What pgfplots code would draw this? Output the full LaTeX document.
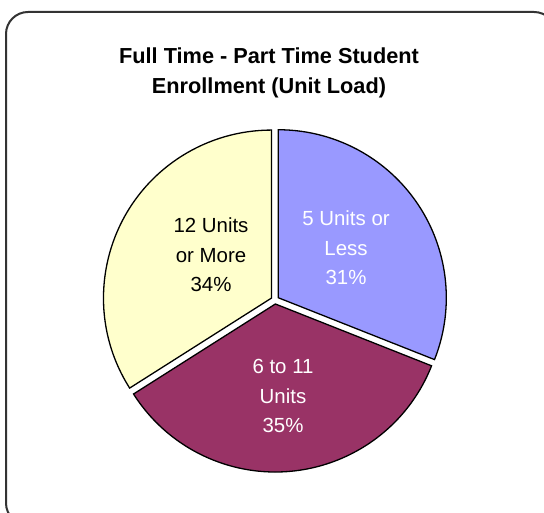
\documentclass[border=0pt]{standalone}
\usepackage{pgfplots}
\usepackage{pgfplotstable}
\pgfplotsset{compat=1.18}
\usepackage{fontspec}
\setmainfont{Liberation Sans}
\definecolor{sA}{HTML}{9999FF}
\definecolor{sB}{HTML}{993366}
\definecolor{sC}{HTML}{FFFFCC}
\definecolor{frameC}{HTML}{333333}
\pgfplotstableread{
slice value
1 31
2 35
3 34
}\piedata
\begin{document}
\begin{tikzpicture}
\pgfplotstablegetelem{0}{value}\of\piedata \pgfmathsetmacro\vA{\pgfplotsretval}
\pgfplotstablegetelem{1}{value}\of\piedata \pgfmathsetmacro\vB{\pgfplotsretval}
\pgfplotstablegetelem{2}{value}\of\piedata \pgfmathsetmacro\vC{\pgfplotsretval}
\pgfmathsetmacro\aO{90}
\pgfmathsetmacro\aA{\aO-3.6*\vA}
\pgfmathsetmacro\aB{\aA-3.6*\vB}
\pgfmathsetmacro\aC{\aB-3.6*\vC}
\pgfmathsetmacro\mA{(\aO+\aA)/2}
\pgfmathsetmacro\mB{(\aA+\aB)/2}
\pgfmathsetmacro\mC{(\aB+\aC)/2}
\begin{axis}[width=544bp,height=513bp,scale only axis,
  xmin=0,xmax=544,ymin=0,ymax=513,axis lines=none,clip=true]
\draw[frameC, line width=2bp, rounded corners=22bp] (axis cs:6,501) rectangle (axis cs:556,-12);
\filldraw[fill=sA, draw=black, line width=1.3bp, shift={(\mA:4bp)}]
  (axis cs:275,213) -- ++(\aO:168bp) arc[start angle=\aO, end angle=\aA, radius=168bp] -- cycle;
\filldraw[fill=sB, draw=black, line width=1.3bp, shift={(\mB:4bp)}]
  (axis cs:275,213) -- ++(\aA:168bp) arc[start angle=\aA, end angle=\aB, radius=168bp] -- cycle;
\filldraw[fill=sC, draw=black, line width=1.3bp, shift={(\mC:4bp)}]
  (axis cs:275,213) -- ++(\aB:168bp) arc[start angle=\aB, end angle=\aC, radius=168bp] -- cycle;
\node[align=center, font=\fontsize{21.8}{29.5}\selectfont\bfseries] at (axis cs:269,440) {Full Time - Part Time Student\\Enrollment (Unit Load)};
\node[align=center, text=white, font=\fontsize{20.5}{29.5}\selectfont] at (axis cs:346,265) {5 Units or\\Less\\31\%};
\node[align=center, text=white, font=\fontsize{20.5}{29.5}\selectfont] at (axis cs:283,117) {6 to 11\\Units\\35\%};
\node[align=center, text=black, font=\fontsize{20.5}{29.5}\selectfont] at (axis cs:211,258) {12 Units\\or More\\34\%};
\end{axis}
\pgfresetboundingbox
\useasboundingbox (0,0) rectangle (544bp,513bp);
\end{tikzpicture}
\end{document}
